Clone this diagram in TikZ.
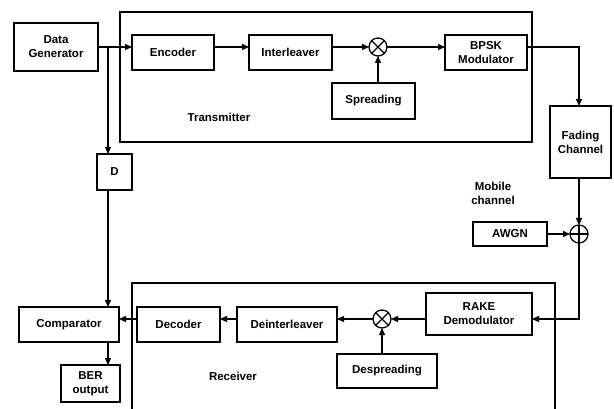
\documentclass[tikz,border=0pt]{standalone}
\usepackage{fontspec}
\setmainfont{Liberation Sans}
\usetikzlibrary{arrows.meta,calc}
\begin{document}
\begin{tikzpicture}[x=1pt,y=-1pt,
  every node/.style={font=\fontsize{11.5}{14}\selectfont\bfseries, align=center},
  blk/.style={draw, line width=1.3pt, inner sep=1pt, outer sep=0pt},
  mix/.style={draw, circle, line width=1.3pt, minimum size=18pt, inner sep=0pt, outer sep=0pt},
  frame/.style={draw, line width=1.3pt},
  conn/.style={line width=1.3pt, -{Triangle[length=7pt,width=6pt]}},
  wire/.style={line width=1.3pt}]
\useasboundingbox (0,0) rectangle (614,409);
% frames
\draw[frame] (120,12) rectangle (532,142);
\draw[frame] (132,412) -- (132,283) -- (555,283) -- (555,412);
% blocks
\node[blk, minimum width=84pt, minimum height=48pt] (dg) at (56,47) {Data\\Generator};
\node[blk, minimum width=82pt, minimum height=35pt] (enc) at (173,52.5) {Encoder};
\node[blk, minimum width=83pt, minimum height=35pt] (int) at (290.5,52.5) {Interleaver};
\node[mix] (m1) at (378,47) {};
\node[blk, minimum width=83pt, minimum height=36pt] (spr) at (373.5,101) {Spreading};
\node[blk, minimum width=82pt, minimum height=35pt] (bpsk) at (486,52.5) {BPSK\\Modulator};
\node[blk, minimum width=61pt, minimum height=72pt] (fad) at (580.5,142) {Fading\\Channel};
\node (mob) at (493,193) {Mobile\\channel};
\node[mix] (add) at (579,234) {};
\node[blk, minimum width=74pt, minimum height=24pt] (awgn) at (510,234) {AWGN};
\node[blk, minimum width=106pt, minimum height=42pt] (rake) at (479,314) {RAKE\\Demodulator};
\node[mix] (m2) at (382,319) {};
\node[blk, minimum width=100pt, minimum height=34pt] (desp) at (387,371) {Despreading};
\node[blk, minimum width=100pt, minimum height=35pt] (deint) at (287,324.5) {Deinterleaver};
\node[blk, minimum width=83pt, minimum height=35pt] (dec) at (178.5,324.5) {Decoder};
\node[blk, minimum width=100pt, minimum height=35pt] (comp) at (69,324.5) {Comparator};
\node[blk, minimum width=59pt, minimum height=37pt] (ber) at (90.5,383.5) {BER\\output};
\node[blk, minimum width=35pt, minimum height=36pt] (D) at (114.5,172) {D};
\node (tx) at (219,117) {Transmitter};
\node (rx) at (233,376) {Receiver};
\coordinate (sp) at (108,47);
% mixer symbols
\draw[wire] (m1.north west) -- (m1.south east) (m1.north east) -- (m1.south west);
\draw[wire] (m2.north west) -- (m2.south east) (m2.north east) -- (m2.south west);
\draw[wire] (add.north) -- (add.south) (add.west) -- (add.east);
% connectors
\draw[conn] (dg.east |- m1) -- (enc.west |- m1);
\draw[conn] (enc.east |- m1) -- (int.west |- m1);
\draw[conn] (int.east |- m1) -- (m1);
\draw[conn] (m1) -- (bpsk.west |- m1);
\draw[conn] (spr.north -| m1) -- (m1);
\draw[conn] (bpsk.east |- m1) -| (fad.north -| add);
\draw[conn] (fad.south -| add) -- (add);
\draw[conn] (awgn) -- (add);
\draw[conn] (add) |- (rake.east |- m2);
\draw[conn] (rake.west |- m2) -- (m2);
\draw[conn] (desp.north -| m2) -- (m2);
\draw[conn] (m2) -- (deint.east |- m2);
\draw[conn] (deint.west |- m2) -- (dec.east |- m2);
\draw[conn] (dec.west |- m2) -- (comp.east |- m2);
\draw[conn] (sp) -- (D.north -| sp);
\draw[conn] (D.south -| sp) -- (comp.north -| sp);
\draw[conn] (comp.south -| sp) -- (ber.north -| sp);
\end{tikzpicture}
\end{document}
